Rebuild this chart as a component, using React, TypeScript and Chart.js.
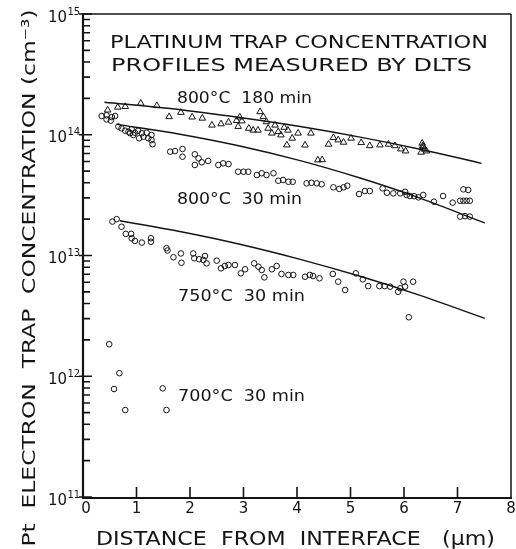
import React, { useEffect, useRef } from "react";
import { Chart, registerables } from "chart.js";
Chart.register(...registerables);

const FONT = '"DejaVu Sans", "Liberation Sans", sans-serif';
const INK = "#141414";

const xTicks = [0, 1, 2, 3, 4, 5, 6, 7, 8];
const yExponents = [11, 12, 13, 14, 15];
const minorMantissas = [2, 3, 4, 5, 6, 7, 8, 9];

const titleLines = ["PLATINUM TRAP CONCENTRATION", "PROFILES MEASURED BY DLTS"];
const xTitle = "DISTANCE  FROM  INTERFACE   (\u03bcm)";
const yTitle = "Pt  ELECTRON  TRAP  CONCENTRATION (cm\u207b\u00b3)";
const seriesLabels = ["800\u00b0C  180 min", "800\u00b0C  30 min", "750\u00b0C  30 min", "700\u00b0C  30 min"];

// 800°C 180 min (triangles)
const tri180: [number, number][] = [
  [0.46, 1.6e14], [0.65, 1.69e14], [0.79, 1.71e14], [1.08, 1.82e14], [1.38, 1.74e14],
  [1.61, 1.41e14], [1.83, 1.53e14], [2.04, 1.4e14], [2.23, 1.37e14], [2.41, 1.2e14],
  [2.58, 1.23e14], [2.72, 1.27e14], [2.87, 1.31e14], [2.9, 1.17e14], [2.93, 1.4e14],
  [2.97, 1.3e14], [3.1, 1.13e14], [3.18, 1.09e14], [3.27, 1.09e14], [3.31, 1.55e14],
  [3.37, 1.41e14], [3.43, 1.28e14], [3.46, 1.13e14], [3.53, 1.03e14], [3.59, 1.2e14],
  [3.65, 1.06e14], [3.7, 9.95e13], [3.76, 1.15e14], [3.83, 1.09e14], [3.91, 9.35e13],
  [3.81, 8.22e13], [4.02, 1.03e14], [4.15, 8.2e13], [4.26, 1.03e14], [4.39, 6.18e13],
  [4.47, 6.2e13], [4.59, 8.34e13], [4.68, 9.46e13], [4.77, 9.05e13], [4.87, 8.66e13],
  [5.01, 9.35e13], [5.2, 8.6e13], [5.36, 8.11e13], [5.55, 8.22e13], [5.71, 8.34e13],
  [5.83, 8.1e13], [5.94, 7.62e13], [6.03, 7.33e13], [6.34, 8.5e13], [6.36, 7.96e13],
  [6.42, 7.33e13], [6.32, 7.16e13], [6.38, 7.6e13], [6.35, 8.1e13],
];

// 800°C 30 min (circles)
const circ800: [number, number][] = [
  [0.35, 1.43e14], [0.44, 1.45e14], [0.54, 1.4e14], [0.6, 1.43e14], [0.44, 1.34e14], [0.52, 1.31e14],
  [0.66, 1.17e14], [0.72, 1.13e14], [0.79, 1.08e14], [0.85, 1.06e14], [0.91, 1.11e14], [0.97, 1.04e14],
  [1.03, 1.08e14], [1.1, 1.03e14], [1.19, 1.04e14], [1.28, 9.95e13], [1.28, 9.05e13], [1.3, 8.34e13],
  [1.22, 9.35e13], [1.13, 9.63e13], [1.05, 9.35e13], [0.94, 9.95e13], [0.88, 1.03e14],
  [1.63, 7.24e13], [1.72, 7.33e13], [1.86, 7.62e13], [1.86, 6.58e13], [2.09, 6.89e13], [2.16, 6.38e13],
  [2.09, 5.62e13], [2.22, 5.92e13], [2.34, 6.07e13], [2.53, 5.62e13], [2.62, 5.8e13], [2.72, 5.72e13],
  [2.9, 4.94e13], [3.0, 4.94e13], [3.09, 4.94e13], [3.25, 4.64e13], [3.34, 4.8e13], [3.43, 4.64e13],
  [3.56, 4.8e13], [3.65, 4.16e13], [3.74, 4.22e13], [3.84, 4.08e13], [3.92, 4.08e13], [4.18, 3.96e13],
  [4.27, 4.0e13], [4.37, 3.96e13], [4.46, 3.89e13], [4.68, 3.67e13], [4.79, 3.56e13], [4.87, 3.67e13],
  [4.94, 3.78e13], [5.16, 3.23e13], [5.27, 3.42e13], [5.36, 3.42e13], [5.6, 3.6e13], [5.68, 3.31e13],
  [5.8, 3.27e13], [5.93, 3.27e13], [6.02, 3.37e13], [6.05, 3.17e13], [6.11, 3.11e13], [6.19, 3.1e13],
  [6.27, 3.03e13], [6.36, 3.17e13], [6.56, 2.79e13], [6.73, 3.11e13], [6.91, 2.74e13], [7.11, 3.53e13],
  [7.2, 3.49e13], [7.05, 2.84e13], [7.11, 2.84e13], [7.17, 2.84e13], [7.23, 2.84e13], [7.05, 2.1e13],
  [7.14, 2.12e13], [7.23, 2.1e13],
];

// 750°C 30 min (circles)
const circ750: [number, number][] = [
  [0.55, 1.91e13], [0.63, 2.0e13], [0.72, 1.73e13], [0.8, 1.51e13], [0.9, 1.51e13], [0.91, 1.39e13],
  [0.97, 1.32e13], [1.1, 1.28e13], [1.27, 1.39e13], [1.27, 1.3e13], [1.56, 1.15e13], [1.58, 1.1e13],
  [1.69, 9.67e12], [1.83, 1.04e13], [1.84, 8.71e12], [2.06, 1.04e13], [2.08, 9.48e12], [2.17, 9.31e12],
  [2.25, 9.18e12], [2.28, 9.9e12], [2.31, 8.61e12], [2.5, 9.06e12], [2.58, 7.83e12], [2.65, 8.18e12],
  [2.72, 8.34e12], [2.84, 8.34e12], [2.95, 7.12e12], [3.03, 7.69e12], [3.2, 8.61e12], [3.28, 8.07e12],
  [3.34, 7.59e12], [3.39, 6.59e12], [3.53, 7.69e12], [3.62, 8.18e12], [3.71, 7.03e12], [3.84, 6.9e12],
  [3.93, 6.9e12], [4.15, 6.67e12], [4.24, 6.9e12], [4.3, 6.76e12], [4.42, 6.47e12], [4.67, 7.03e12],
  [4.77, 6.07e12], [4.9, 5.18e12], [5.1, 7.12e12], [5.23, 6.35e12], [5.33, 5.58e12], [5.54, 5.58e12],
  [5.64, 5.58e12], [5.74, 5.52e12], [5.89, 5.01e12], [5.93, 5.35e12], [5.99, 6.07e12], [6.02, 5.52e12],
  [6.17, 6.07e12], [6.09, 3.08e12],
];

// 700°C 30 min (circles)
const circ700: [number, number][] = [
  [0.49, 1.84e12], [0.68, 1.06e12], [0.58, 7.84e11], [0.79, 5.25e11], [1.49, 7.94e11], [1.56, 5.25e11],
];

// fitted profiles
const fit180: [number, number][] = [
  [0.4, 1.86e14], [1.63, 1.65e14], [2.93, 1.39e14], [4.06, 1.17e14], [5.18, 9.56e13], [6.3, 7.59e13], [7.45, 5.8e13],
];
const fit800: [number, number][] = [
  [0.63, 1.22e14], [1.81, 1.01e14], [2.93, 8.07e13], [4.06, 6.11e13], [5.18, 4.38e13], [6.3, 2.99e13], [7.51, 1.86e13],
];
const fit750: [number, number][] = [
  [0.69, 1.94e13], [1.81, 1.58e13], [2.93, 1.24e13], [4.06, 9.3e12], [5.18, 6.73e12], [6.3, 4.68e12], [7.51, 3.02e12],
];

function fitText(
  ctx: CanvasRenderingContext2D,
  text: string,
  x: number,
  cy: number,
  width: number,
  size: number,
  align: "left" | "center" = "left"
) {
  ctx.save();
  ctx.font = `${size}px ${FONT}`;
  ctx.textAlign = "left";
  ctx.textBaseline = "alphabetic";
  const w = ctx.measureText(text).width;
  const s = width / w;
  const left = align === "center" ? x - width / 2 : x;
  ctx.translate(left, cy + 0.365 * size);
  ctx.scale(s, 1);
  ctx.fillText(text, 0, 0);
  ctx.restore();
}

export default function App() {
  const ref = useRef<HTMLCanvasElement>(null);

  useEffect(() => {
    if (!ref.current) return;
    const toPts = (a: [number, number][]) => a.map(([x, y]) => ({ x, y }));

    const overlay = {
      id: "overlay",
      afterDraw(chart: any) {
        const ctx: CanvasRenderingContext2D = chart.ctx;
        const { left, right, top, bottom } = chart.chartArea;
        const xs = chart.scales.x;
        const ys = chart.scales.y;
        ctx.save();
        ctx.strokeStyle = INK;
        ctx.fillStyle = INK;
        ctx.lineCap = "butt";

        // frame
        ctx.lineWidth = 1.5;
        ctx.beginPath();
        ctx.moveTo(left, top);
        ctx.lineTo(right, top);
        ctx.moveTo(right, top);
        ctx.lineTo(right, bottom);
        ctx.stroke();
        ctx.lineWidth = 2.2;
        ctx.beginPath();
        ctx.moveTo(left, top - 1);
        ctx.lineTo(left, bottom + 1);
        ctx.lineTo(right + 1, bottom + 1);
        ctx.stroke();

        // y ticks
        ctx.lineWidth = 1.6;
        ctx.beginPath();
        for (const e of yExponents) {
          const py = ys.getPixelForValue(Math.pow(10, e));
          ctx.moveTo(left - 4, py);
          ctx.lineTo(left + 9, py);
          if (e < 15) {
            for (const m of minorMantissas) {
              const p = ys.getPixelForValue(m * Math.pow(10, e));
              ctx.moveTo(left, p);
              ctx.lineTo(left + 7, p);
            }
          }
        }
        // x ticks
        for (const t of xTicks) {
          if (t === 0 || t === 8) continue;
          const px = xs.getPixelForValue(t);
          ctx.moveTo(px, bottom);
          ctx.lineTo(px, bottom - 10);
        }
        ctx.stroke();

        // x tick labels
        ctx.font = `15px ${FONT}`;
        ctx.textAlign = "center";
        ctx.textBaseline = "alphabetic";
        for (const t of xTicks) {
          const px = xs.getPixelForValue(t) + (t === 0 ? 3 : 0);
          ctx.fillText(String(t), px, 507 + 5.5);
        }

        // y tick labels 10^n
        for (const e of yExponents) {
          const py = ys.getPixelForValue(Math.pow(10, e));
          ctx.font = `15px ${FONT}`;
          ctx.textAlign = "right";
          ctx.fillText("10", 67, py + 2 + 5.5);
          ctx.font = `10px ${FONT}`;
          ctx.textAlign = "left";
          ctx.fillText(String(e), 67.5, py - 3 + 3.7);
        }

        // title lines
        fitText(ctx, titleLines[0], 110, 42, 378, 17);
        fitText(ctx, titleLines[1], 111, 65, 361, 17);

        // series labels
        fitText(ctx, seriesLabels[0], 177, 97, 135, 16);
        fitText(ctx, seriesLabels[1], 177, 198, 125, 16);
        fitText(ctx, seriesLabels[2], 178, 295, 127, 16);
        fitText(ctx, seriesLabels[3], 178, 395, 127, 16);

        // axis titles
        fitText(ctx, xTitle, 96, 538, 399, 19);
        ctx.save();
        ctx.translate(28, 278);
        ctx.rotate(-Math.PI / 2);
        fitText(ctx, yTitle, 0, 0, 537, 18, "center");
        ctx.restore();

        ctx.restore();
      },
    };

    const circle = {
      pointStyle: "circle" as const,
      pointRadius: 2.8,
      pointBorderWidth: 1,
      pointBorderColor: INK,
      pointBackgroundColor: "rgba(0,0,0,0)",
      showLine: false,
    };
    const line = {
      showLine: true,
      pointRadius: 0,
      borderColor: INK,
      borderWidth: 1.4,
      cubicInterpolationMode: "monotone" as const,
    };

    const chart = new Chart(ref.current, {
      type: "scatter",
      data: {
        datasets: [
          { label: "fit 800°C 180 min", data: toPts(fit180), ...line },
          { label: "fit 800°C 30 min", data: toPts(fit800), ...line },
          { label: "fit 750°C 30 min", data: toPts(fit750), ...line },
          {
            label: "800°C 180 min",
            data: toPts(tri180),
            pointStyle: "triangle",
            pointRadius: 3.8,
            pointBorderWidth: 1,
            pointBorderColor: INK,
            pointBackgroundColor: "rgba(0,0,0,0)",
            showLine: false,
          },
          { label: "800°C 30 min", data: toPts(circ800), ...circle },
          { label: "750°C 30 min", data: toPts(circ750), ...circle },
          { label: "700°C 30 min", data: toPts(circ700), ...circle },
        ],
      },
      options: {
        responsive: false,
        animation: false,
        devicePixelRatio: 1,
        layout: { padding: { top: 14, right: 5, left: 0, bottom: 0 } },
        plugins: { legend: { display: false }, tooltip: { enabled: false } },
        scales: {
          x: {
            type: "linear",
            min: 0,
            max: 8,
            grid: { display: false },
            border: { display: false },
            ticks: { display: false },
            afterFit(s: any) {
              s.height = 52;
            },
          },
          y: {
            type: "logarithmic",
            min: 1e11,
            max: 1e15,
            grid: { display: false },
            border: { display: false },
            ticks: { display: false },
            afterFit(s: any) {
              s.width = 83;
            },
          },
        },
      },
      plugins: [overlay],
    });
    return () => chart.destroy();
  }, []);

  return (
    <div style={{ position: "absolute", left: 0, top: 0, width: 516, height: 549, background: "#fff" }}>
      <canvas ref={ref} width={516} height={549} style={{ display: "block" }} />
    </div>
  );
}
